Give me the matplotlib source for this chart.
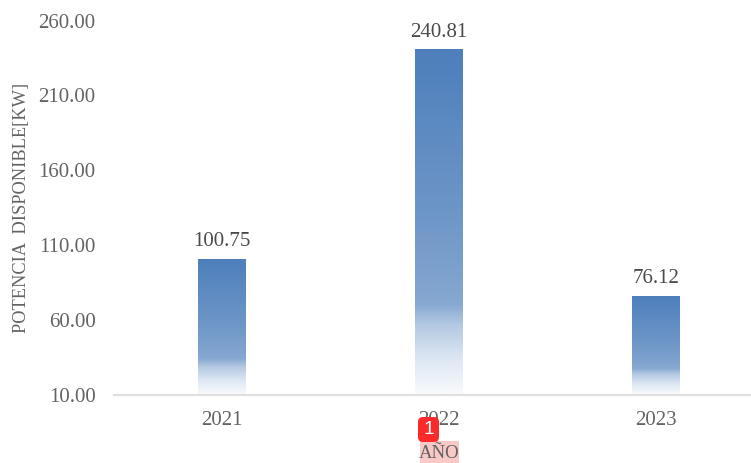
import matplotlib
matplotlib.use("Agg")
import matplotlib.pyplot as plt
import numpy as np
from matplotlib.colors import LinearSegmentedColormap
from matplotlib.patches import FancyBboxPatch, Rectangle
from matplotlib.transforms import Affine2D

years = ["2021", "2022", "2023"]
potencia = [100.75, 240.81, 76.12]
y_ticks = [10, 60, 110, 160, 210, 260]
y_label = "POTENCIA  DISPONIBLE[KW]"
x_label = "AÑO"

W, H = 751, 463
plt.rcParams["font.family"] = ["Liberation Serif", "DejaVu Serif"]
TEXT = "#636363"

fig = plt.figure(figsize=(W / 100, H / 100), dpi=100, facecolor="white")
# Pixel coordinates measured from the top-left corner of the figure
px = Affine2D().scale(1 / W, -1 / H).translate(0, 1) + fig.transFigure

# The plot area runs past the right edge of the figure
ax = fig.add_axes([113.5 / W, 1 - 394.5 / H, 651 / W, 374 / H])
ax.set_xlim(-0.5, 2.5)
ax.set_ylim(10, 260)

for side in ("top", "right", "left"):
    ax.spines[side].set_visible(False)
ax.spines["bottom"].set_color("#e0e0e0")
ax.spines["bottom"].set_linewidth(1.6)

ax.set_xticks(range(len(years)), years)
ax.set_yticks(y_ticks, [f"{v:.2f}" for v in y_ticks])
ax.tick_params(axis="both", length=0, labelsize=15, labelcolor=TEXT)
ax.tick_params(axis="x", pad=12)
ax.tick_params(axis="y", pad=13)

# Blue fade: slow lightening, then a quick drop to near white at the foot
fade = LinearSegmentedColormap.from_list(
    "fade",
    [(0.0, "#4d7fbc"), (0.5, "#6f97c8"), (0.74, "#86a8d1"),
     (0.80, "#b3c8e2"), (0.90, "#dde7f3"), (1.0, "#f8fafd")],
)
ramp = np.linspace(0, 1, 256).reshape(-1, 1)
bars = ax.bar(range(len(years)), potencia, width=48 / 217, bottom=0,
              color="none", edgecolor="none")
for bar, value in zip(bars, potencia):
    x0 = bar.get_x()
    img = ax.imshow(ramp, cmap=fade, aspect="auto", vmin=0, vmax=1, zorder=2,
                    extent=(x0, x0 + bar.get_width(), 10, value),
                    interpolation="bilinear")
    img.set_clip_path(bar)
    ax.annotate(f"{value:.2f}", (x0 + bar.get_width() / 2, value),
                xytext=(0, 5.5), textcoords="offset points", ha="center",
                va="bottom", fontsize=15, color="#4a4a4a")
ax.set_xlim(-0.5, 2.5)
ax.set_ylim(10, 260)
ax.set_aspect("auto")

fig.text(22, 208, y_label, transform=px, rotation=90, ha="center", va="center",
         fontsize=13.2, color=TEXT)

# Highlighted axis title with its numbered marker
fig.add_artist(Rectangle((420, 441), 39, 22, transform=px,
                         facecolor="#f8c9c6", edgecolor="none", zorder=4))
fig.text(439.5, 453, x_label, transform=px, ha="center", va="center",
         fontsize=13.5, color=TEXT, zorder=5)
fig.add_artist(FancyBboxPatch((418, 417), 21, 25,
                              boxstyle="round,pad=0,rounding_size=5",
                              transform=px, facecolor="#fb2a2a",
                              edgecolor="none", zorder=6))
fig.text(428.5, 430, "1", transform=px, ha="center", va="center", fontsize=14,
         color="white", family="Liberation Sans", zorder=7)

fig.savefig("out.png", dpi=100)
